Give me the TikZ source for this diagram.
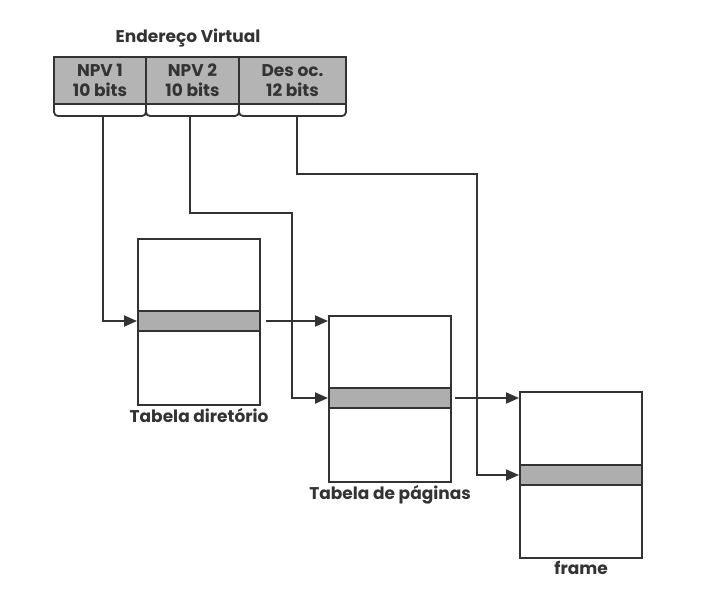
\documentclass[tikz,border=0pt]{standalone}
\usepackage{fontspec}
\setmainfont{Poppins}
\usetikzlibrary{arrows.meta, positioning}
\definecolor{inkgray}{HTML}{333333}
\definecolor{boxgray}{HTML}{B4B4B4}
\definecolor{rowgray}{HTML}{AEAEAE}

\begin{document}
\begin{tikzpicture}[x=1pt, y=-1pt, >={Triangle[length=13pt, width=11pt]},
    every node/.style={text=inkgray, font=\fontsize{17}{20}\selectfont\bfseries},
    fieldbox/.style={draw=inkgray, line width=2.2pt, fill=boxgray, minimum height=47pt,
      inner sep=0pt, outer sep=0pt, align=center},
    tablebox/.style={draw=inkgray, line width=2.2pt, minimum width=122pt, minimum height=166pt,
      inner sep=0pt, anchor=north west},
    rowbox/.style={draw=inkgray, line width=2pt, fill=rowgray, minimum width=122pt,
      minimum height=20pt, inner sep=0pt, anchor=north west},
    caption/.style={inner sep=2pt},
    link/.style={draw=inkgray, line width=1.8pt}]
  \useasboundingbox (0,0) rectangle (717,599);

  % Virtual address
  \node (title) at (188,38) {Endereço Virtual};
  \node[fieldbox, minimum width=92pt, anchor=north west] (npv1) at (54,57) {NPV 1\\10 bits};
  \node[fieldbox, minimum width=93pt, right=0pt of npv1] (npv2) {NPV 2\\10 bits};
  \node[fieldbox, minimum width=107pt, right=0pt of npv2] (desloc) {Des oc.\\12 bits};

  % Tables
  \node[tablebox] (dir) at (137,238) {};
  \node[rowbox] (dirrow) at (137,310) {};
  \node[caption, below=0pt of dir] (dirlabel) {Tabela diretório};

  \node[tablebox] (page) at (328,315) {};
  \node[rowbox] (pagerow) at (328,387) {};
  \node[caption, below=0pt of page] (pagelabel) {Tabela de páginas};

  \node[tablebox] (frame) at (519,391) {};
  \node[rowbox] (framerow) at (519,464) {};
  \node[caption, below=0pt of frame] (framelabel) {frame};

  % Braces
  \coordinate (b1) at (103,116);
  \coordinate (b2) at (190,116);
  \coordinate (b3) at (297,116);
  \draw[link, rounded corners=4pt] (npv1.south west) |- (b1) -| (npv1.south east);
  \draw[link, rounded corners=4pt] (npv2.south west) |- (b2) -| (npv2.south east);
  \draw[link, rounded corners=4pt] (desloc.south west) |- (b3) -| (desloc.south east);

  % Connectors
  \coordinate (k2) at (292,213);
  \coordinate (k3) at (477,174);
  \draw[link, ->] (b1) |- (dirrow.west);
  \draw[link, ->] (b2) |- (k2) |- (pagerow.west);
  \draw[link, ->] (b3) |- (k3) |- (framerow.west);
  \draw[link, ->] ([xshift=5pt]dirrow.east) -- (dirrow.east -| page.west);
  \draw[link, ->] ([xshift=3pt]pagerow.east) -- (pagerow.east -| frame.west);
\end{tikzpicture}
\end{document}
